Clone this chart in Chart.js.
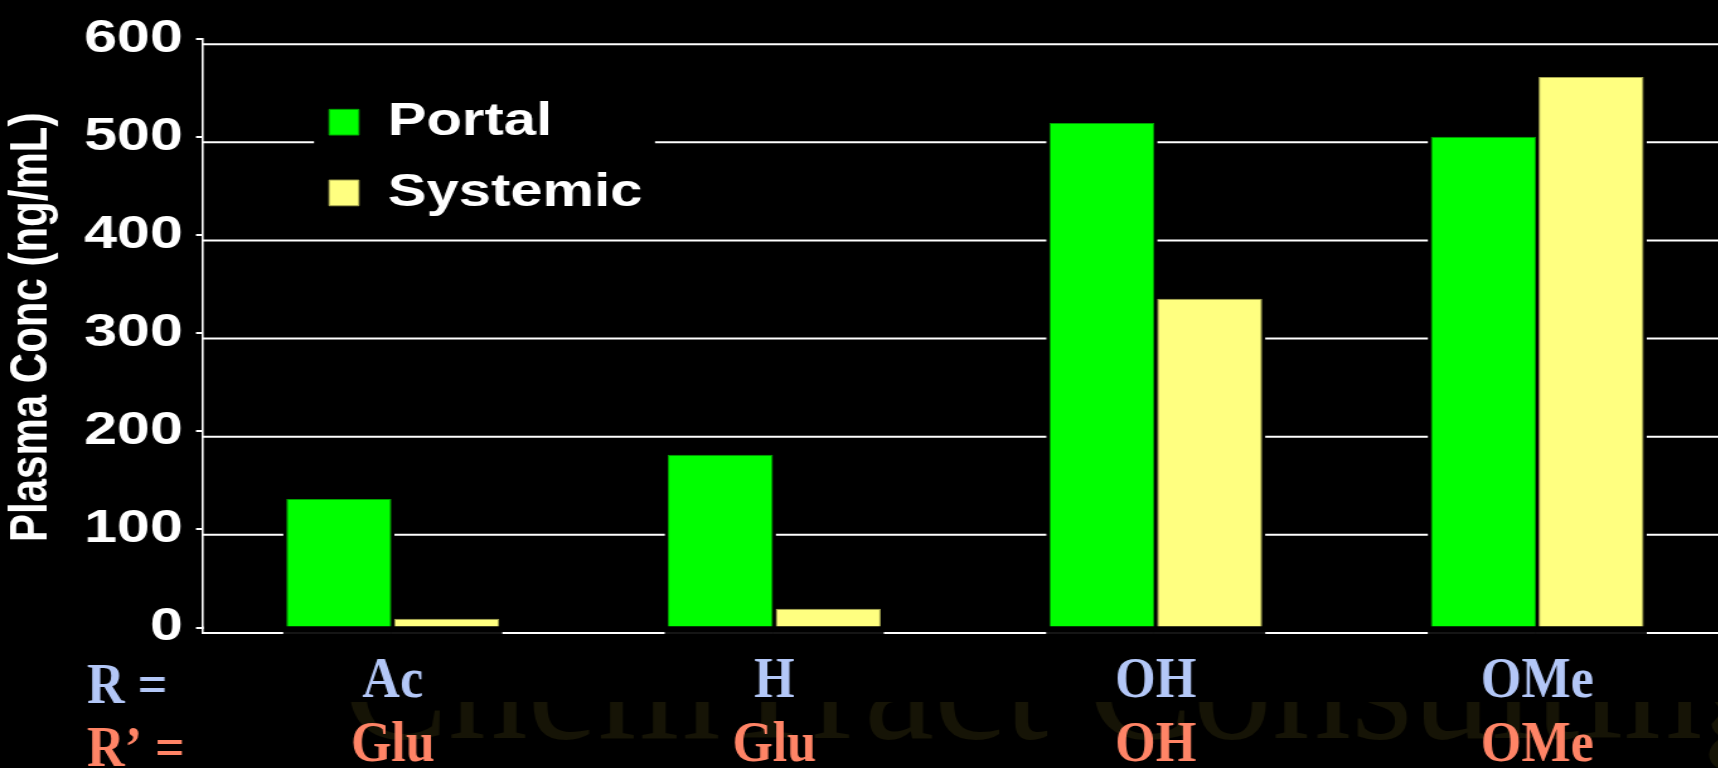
<!DOCTYPE html>
<html>
<head>
<meta charset="utf-8">
<title>Plasma Conc</title>
<script src="https://cdn.jsdelivr.net/npm/chart.js@4"></script>
<style>
  html, body { margin: 0; padding: 0; background: #000; width: 1718px; height: 768px; overflow: hidden; }
  /* the slide artwork is stretched horizontally; the canvas is drawn narrow and widened */
  #stage { position: absolute; left: 0; top: 0; width: 1374px; height: 768px; transform: scaleX(1.26); transform-origin: 0 0; }
  #chart { display: block; }
</style>
</head>
<body>
<div id="stage"><canvas id="chart" width="1374" height="768"></canvas></div>
<script>
// Substituents of each compound (two label rows under the bar groups)
const rGroups = ['Ac', 'H', 'OH', 'OMe'];
const rPrimeGroups = ['Glu', 'Glu', 'OH', 'OMe'];
const rowHeads = ['R =', 'R\u2019 ='];

// Plasma concentrations (ng/mL)
const seriesNames = ['Portal', 'Systemic'];
const portal = [131, 176, 514, 500];
const systemic = [9, 19, 335, 561];

// Value axis tick labels
const yTicks = [0, 100, 200, 300, 400, 500, 600];

const watermark = 'ChemTract Consulting';

const SX = 1.26;                 // horizontal stretch applied by CSS
const SANS = '"Liberation Sans", Arial, sans-serif';
const SERIF = '"Liberation Serif", "Times New Roman", serif';
const GRID_SHIFT = 5.5;          // rules sit a little below their tick marks
const BLUE = '#b3c7f7';
const SALMON = '#ff8466';

// Black page, faint name along the bottom, white rules, black patch behind the legend
const backdrop = {
  id: 'backdrop',
  beforeDraw(chart) {
    const { ctx, chartArea, width, height } = chart;
    const y = chart.scales.y;
    ctx.save();
    ctx.fillStyle = '#000';
    ctx.fillRect(0, 0, width, height);

    ctx.beginPath();
    ctx.rect(0, 702, width, height - 702);
    ctx.clip();
    ctx.translate(343 / SX, 738);
    ctx.scale(1 / SX, 1);
    ctx.fillStyle = '#161406';
    ctx.font = '158px ' + SERIF;
    ctx.textAlign = 'left';
    ctx.textBaseline = 'alphabetic';
    ctx.fillText(watermark, 0, 0);
    ctx.restore();

    ctx.save();
    ctx.strokeStyle = '#ffffff';
    ctx.lineWidth = 2;
    y.ticks.forEach(t => {
      const py = y.getPixelForValue(t.value) + GRID_SHIFT;
      ctx.beginPath();
      ctx.moveTo(chartArea.left, py);
      ctx.lineTo(width, py);
      ctx.stroke();
    });
    // vertical axis runs down to the base rule
    const baseY = y.getPixelForValue(0) + GRID_SHIFT;
    ctx.lineWidth = 1.6;
    ctx.beginPath();
    ctx.moveTo(160.8, chartArea.bottom - 1);
    ctx.lineTo(160.8, baseY + 1);
    ctx.stroke();

    ctx.fillStyle = '#000';
    ctx.fillRect(314 / SX, 85, (655 - 314) / SX, 140);
    ctx.restore();
  }
};

// Each bar keeps a thin black margin that interrupts the rules
const halos = {
  id: 'halos',
  beforeDatasetsDraw(chart) {
    const { ctx } = chart;
    const y = chart.scales.y;
    const baseY = y.getPixelForValue(0) + GRID_SHIFT;
    const pad = 3 / SX;
    ctx.save();
    chart.data.datasets.forEach((ds, i) => {
      chart.getDatasetMeta(i).data.forEach(bar => {
        const { x, y: top, width } = bar.getProps(['x', 'y', 'width'], true);
        ctx.fillStyle = '#000';
        ctx.fillRect(x - width / 2 - pad, top - 3, width + 2 * pad, baseY + 2 - (top - 3));
        ctx.fillStyle = '#2b2b2b';
        ctx.fillRect(x - width / 2 - pad, baseY - 0.5, width + 2 * pad, 1);
      });
    });
    ctx.restore();
  }
};

// Legend sits inside the plot, upper left
const legendPlacement = {
  id: 'legendPlacement',
  afterLayout(chart) {
    const lg = chart.legend;
    if (!lg) return;
    lg.left = 236.5;
    lg.top = 74.5;
    lg.width = 420;
    lg.height = 300;
    lg.right = lg.left + lg.width;
    lg.bottom = lg.top + lg.height;
  }
};

// R / R' substituent rows under the groups
const rowLabels = {
  id: 'rowLabels',
  afterDraw(chart) {
    const { ctx } = chart;
    const x = chart.scales.x;
    const k = 0.93 / SX;
    const rows = [
      { names: rGroups, color: BLUE, base: 697, headBase: 703 },
      { names: rPrimeGroups, color: SALMON, base: 761, headBase: 766 }
    ];
    ctx.save();
    ctx.font = 'bold 56px ' + SERIF;
    ctx.textBaseline = 'alphabetic';
    const put = (text, px, py, align) => {
      ctx.save();
      ctx.translate(px, py);
      ctx.scale(k, 1);
      ctx.textAlign = align;
      ctx.fillText(text, 0, 0);
      ctx.restore();
    };
    rows.forEach((row, r) => {
      ctx.fillStyle = row.color;
      put(rowHeads[r], 87 / SX, row.headBase, 'left');
      row.names.forEach((n, i) => put(n, x.getPixelForValue(i), row.base, 'center'));
    });
    ctx.restore();
  }
};

new Chart(document.getElementById('chart'), {
  type: 'bar',
  data: {
    labels: rGroups,
    datasets: [
      { label: seriesNames[0], data: portal, backgroundColor: '#00ff00', borderColor: '#00a000', borderWidth: 1 },
      { label: seriesNames[1], data: systemic, backgroundColor: '#ffff80', borderColor: '#a6a650', borderWidth: 1 }
    ]
  },
  options: {
    responsive: false,
    animation: false,
    devicePixelRatio: 1,
    events: [],
    layout: { padding: { top: 31.5, bottom: 140.5, left: 0, right: 1374 - 1728 / SX } },
    datasets: { bar: { categoryPercentage: 0.565, barPercentage: 0.975 } },
    scales: {
      x: { display: false },
      y: {
        min: yTicks[0],
        max: yTicks[yTicks.length - 1],
        afterFit: s => { s.width = 202 / SX; },
        afterBuildTicks: s => { s.ticks = yTicks.map(v => ({ value: v })); },
        grid: { drawOnChartArea: false, drawTicks: true, tickLength: 6 / SX, color: '#ffffff', lineWidth: 2 },
        border: { display: true, color: '#ffffff', width: 1.6 },
        ticks: { color: '#ffffff', padding: 10.5, font: { family: SANS, size: 47, weight: 'bold' } },
        title: {
          display: true,
          text: ' Plasma Conc (ng/mL)',
          color: '#ffffff',
          padding: 0,
          font: { family: SANS, size: 42, weight: 'bold', lineHeight: 1.2 }
        }
      }
    },
    plugins: {
      legend: {
        position: 'chartArea',
        align: 'start',
        labels: {
          color: '#ffffff',
          font: { family: SANS, size: 46, weight: 'bold' },
          boxWidth: 23.6,
          boxHeight: 25.7,
          padding: 24.7
        }
      },
      tooltip: { enabled: false }
    }
  },
  plugins: [backdrop, halos, legendPlacement, rowLabels]
});
</script>
</body>
</html>
